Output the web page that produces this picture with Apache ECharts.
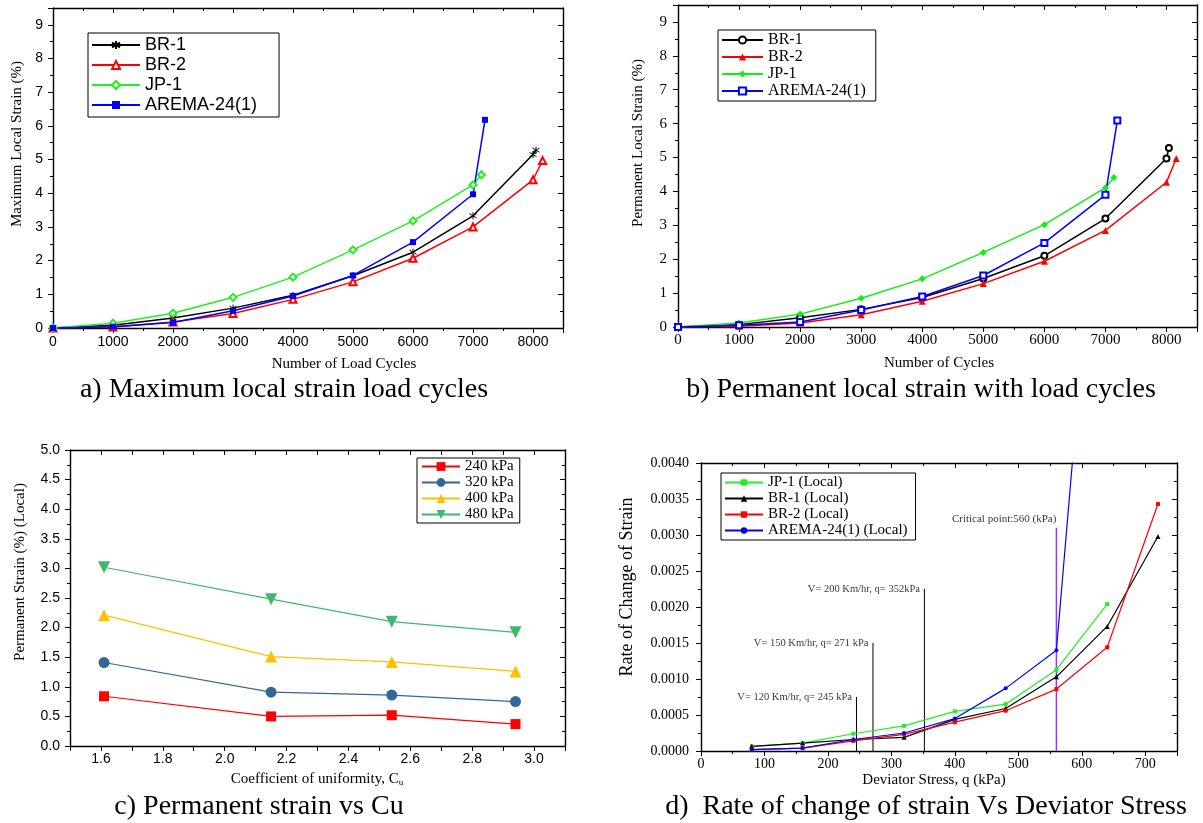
<!DOCTYPE html>
<html><head><meta charset="utf-8">
<script src="https://cdn.jsdelivr.net/npm/echarts@6/dist/echarts.min.js"></script>
<style>html,body{margin:0;padding:0;background:#fff}#c{width:1203px;height:823px}</style>
</head><body><div id="c"></div>
<script>
// ---------- Panel a: Maximum local strain vs load cycles ----------
const cyclesA_BR1 = [0,1000,2000,3000,4000,5000,6000,7000,8000,8050];
const strainA_BR1 = [0,0.08,0.3,0.59,0.97,1.55,2.25,3.33,5.15,5.28];
const cyclesA_BR2 = [0,1000,2000,3000,4000,5000,6000,7000,8000,8160];
const strainA_BR2 = [0,0.03,0.18,0.43,0.85,1.37,2.07,3.0,4.4,4.97];
const cyclesA_JP1 = [0,1000,2000,3000,4000,5000,6000,7000,7140];
const strainA_JP1 = [0,0.14,0.44,0.91,1.51,2.32,3.18,4.25,4.55];
const cyclesA_AR  = [0,1000,2000,3000,4000,5000,6000,7000,7200];
const strainA_AR  = [0,0.04,0.16,0.51,0.95,1.56,2.55,3.97,6.18];

// ---------- Panel b: Permanent local strain vs load cycles ----------
const cyclesB_BR1 = [0,1000,2000,3000,4000,5000,6000,7000,8000,8040];
const strainB_BR1 = [0,0.07,0.27,0.52,0.87,1.43,2.1,3.2,4.97,5.28];
const cyclesB_BR2 = [0,1000,2000,3000,4000,5000,6000,7000,8000,8160];
const strainB_BR2 = [0,0.02,0.12,0.36,0.76,1.28,1.94,2.85,4.27,4.97];
const cyclesB_JP1 = [0,1000,2000,3000,4000,5000,6000,7000,7140];
const strainB_JP1 = [0,0.12,0.38,0.85,1.42,2.2,3.02,4.11,4.41];
const cyclesB_AR  = [0,1000,2000,3000,4000,5000,6000,7000,7195];
const strainB_AR  = [0,0.05,0.15,0.5,0.9,1.52,2.48,3.9,6.09];

// ---------- Panel c: Permanent strain vs Cu ----------
const cuValues = [1.61,2.15,2.54,2.94];
const strain240 = [0.84,0.5,0.52,0.37];
const strain320 = [1.41,0.91,0.86,0.75];
const strain400 = [2.21,1.51,1.42,1.26];
const strain480 = [3.02,2.48,2.1,1.92];

// ---------- Panel d: Rate of change of strain vs deviator stress ----------
const qValues = [80,160,240,320,400,480,560,640,720];
const rateJP1 = [0.000065,0.00011,0.00024,0.00035,0.00055,0.00065,0.00113,0.00204];
const rateBR1 = [0.000065,0.00011,0.00016,0.00019,0.00044,0.00059,0.00103,0.00173,0.00298];
const rateBR2 = [0.00002,0.00004,0.00014,0.00023,0.0004,0.00056,0.00086,0.00144,0.00343];
const rateAR  = [0.00002,0.00004,0.00016,0.00025,0.00045,0.00087,0.0014,0.0097];
const refQ = [245,271,352];
const refTop = [0.00075,0.0015,0.00225];
const refLabels = ['V= 120 Km/hr, q= 245 kPa','V= 150 Km/hr, q= 271 kPa','V= 200 Km/hr, q= 352kPa'];
const critQ = 560, critTop = 0.0031, critLabel = 'Critical point:560 (kPa)';

// ---------- Texts ----------
const titlesA = ['Maximum Local Strain (%)','Number of Load Cycles','a) Maximum local strain load cycles'];
const titlesB = ['Permanent Local Strain (%)','Number of Cycles','b) Permanent local strain with load cycles'];
const titlesC = ['Permanent Strain (%) (Local)','Coefficient of uniformity, C','c) Permanent strain vs Cu'];
const titlesD = ['Rate of Change of Strain','Deviator Stress, q (kPa)','d)  Rate of change of strain Vs Deviator Stress'];

const SANS = "'Liberation Sans', Arial, sans-serif";
const SERIF = "'Liberation Serif', 'Times New Roman', serif";

function xPair(g, o){
  const base = {type:'value', gridIndex:g, min:o.min, max:o.max, interval:o.interval,
    axisLine:{show:true,onZero:false,lineStyle:{color:'#000',width:1.4}},
    splitLine:{show:false}, minorSplitLine:{show:false}};
  return [
    Object.assign({}, base, {position:'bottom',
      axisTick:{show:true,inside:false,length:5,lineStyle:{color:'#000',width:1}},
      minorTick:{show:o.minor>0,splitNumber:o.minor||2,length:3,lineStyle:{color:'#000',width:1}},
      axisLabel:{show:true,color:'#000',fontFamily:o.font,fontSize:o.size,margin:o.margin,formatter:o.fmt,showMinLabel:true,showMaxLabel:true,hideOverlap:false}}),
    Object.assign({}, base, {position:'top',
      axisTick:{show:true,inside:true,length:5,lineStyle:{color:'#000',width:1}},
      minorTick:{show:o.minor>0,splitNumber:o.minor||2,length:3,lineStyle:{color:'#000',width:1}},
      axisLabel:{show:false}})
  ];
}
function yPair(g, o){
  const base = {type:'value', gridIndex:g, min:o.min, max:o.max, interval:o.interval,
    axisLine:{show:true,onZero:false,lineStyle:{color:'#000',width:1.4}},
    splitLine:{show:false}, minorSplitLine:{show:false}};
  return [
    Object.assign({}, base, {position:'left',
      axisTick:{show:true,inside:false,length:5,lineStyle:{color:'#000',width:1}},
      minorTick:{show:o.minor>0,splitNumber:o.minor||2,length:3,lineStyle:{color:'#000',width:1}},
      axisLabel:{show:true,color:'#000',fontFamily:o.font,fontSize:o.size,margin:o.margin,formatter:o.fmt,showMinLabel:true,showMaxLabel:true,hideOverlap:false}}),
    Object.assign({}, base, {position:'right',
      axisTick:{show:true,inside:true,length:5,lineStyle:{color:'#000',width:1}},
      minorTick:{show:o.minor>0,splitNumber:o.minor||2,length:3,lineStyle:{color:'#000',width:1}},
      axisLabel:{show:false}})
  ];
}
const intFmt = (step)=> v => (Math.abs(v/step - Math.round(v/step))<1e-6 ? String(Math.round(v)) : '');

function ln(name, xs, ys, g, color, symbol, size, extra){
  return Object.assign({type:'line', name:name, xAxisIndex:2*g, yAxisIndex:2*g,
    data: xs.map((x,i)=>[x, ys[i]]).filter(p=>p[1]!==undefined),
    symbol:symbol, symbolSize:size, showSymbol:true, color:color,
    lineStyle:{color:color,width:1.5}, itemStyle:{color:color}, animation:false, z:3}, extra||{});
}

const asterisk = 'path://M1,2L9,8M9,2L1,8M5,0L5,10';

const series = [
  // a
  ln('a_BR-1', cyclesA_BR1, strainA_BR1, 0, '#000', asterisk, 7, {itemStyle:{color:'#000',borderColor:'#000',borderWidth:1}}),
  ln('a_BR-2', cyclesA_BR2, strainA_BR2, 0, '#ff0000', 'emptyTriangle', 7),
  ln('a_JP-1', cyclesA_JP1, strainA_JP1, 0, '#22ee22', 'emptyDiamond', 7),
  ln('a_AREMA-24(1)', cyclesA_AR, strainA_AR, 0, '#0000ff', 'rect', 6),
  // b
  ln('b_BR-1', cyclesB_BR1, strainB_BR1, 1, '#000', 'emptyCircle', 6),
  ln('b_BR-2', cyclesB_BR2, strainB_BR2, 1, '#ff0000', 'triangle', 7),
  ln('b_JP-1', cyclesB_JP1, strainB_JP1, 1, '#11ee11', 'diamond', 7),
  ln('b_AREMA-24(1)', cyclesB_AR, strainB_AR, 1, '#0000ff', 'emptyRect', 6),
  // c
  ln('c_240 kPa', cuValues, strain240, 2, '#ff0000', 'rect', 10, {lineStyle:{color:'#ff0000',width:1.2}}),
  ln('c_320 kPa', cuValues, strain320, 2, '#336699', 'circle', 11, {lineStyle:{color:'#336699',width:1.2}}),
  ln('c_400 kPa', cuValues, strain400, 2, '#ffc000', 'triangle', 12, {lineStyle:{color:'#ffc000',width:1.2}}),
  ln('c_480 kPa', cuValues, strain480, 2, '#3cb96e', 'triangle', 12, {symbolRotate:180, lineStyle:{color:'#3cb96e',width:1.2}}),
];
// d reference lines (drawn below data)
refQ.forEach((q,i)=>{
  series.push({type:'line', name:'ref'+i, xAxisIndex:6, yAxisIndex:6, data:[[q,0],[q,refTop[i]]],
    symbol:'none', lineStyle:{color:'#000',width:1}, silent:true, animation:false, z:1});
  series.push({type:'scatter', name:'refl'+i, xAxisIndex:6, yAxisIndex:6,
    data:[{value:[q,refTop[i]], name:refLabels[i]}], symbolSize:1, itemStyle:{color:'transparent'},
    label:{show:true, position:'left', distance:4, formatter:'{b}', color:'#000', fontFamily:SERIF, fontSize:10.5},
    silent:true, animation:false, z:1});
});
series.push({type:'line', name:'crit', xAxisIndex:6, yAxisIndex:6, data:[[critQ,0],[critQ,critTop]],
  symbol:'none', lineStyle:{color:'#9933ff',width:1.5}, silent:true, animation:false, z:1});
series.push({type:'scatter', name:'critl', xAxisIndex:6, yAxisIndex:6,
  data:[{value:[critQ,critTop], name:critLabel}], symbolSize:1, itemStyle:{color:'transparent'},
  label:{show:true, position:'top', align:'right', distance:3, formatter:'{b}', color:'#000', fontFamily:SERIF, fontSize:11},
  silent:true, animation:false, z:1});
series.push(
  ln('d_JP-1 (Local)', qValues, rateJP1, 3, '#22ee22', 'rect', 4, {lineStyle:{color:'#22ee22',width:1.2}}),
  ln('d_BR-1 (Local)', qValues, rateBR1, 3, '#000', 'triangle', 5, {lineStyle:{color:'#000',width:1.2}}),
  ln('d_BR-2 (Local)', qValues, rateBR2, 3, '#ff0000', 'rect', 4, {lineStyle:{color:'#ff0000',width:1.2}}),
  ln('d_AREMA-24(1) (Local)', qValues, rateAR, 3, '#0000ff', 'circle', 4, {lineStyle:{color:'#0000ff',width:1.2}})
);

const xAxes = [].concat(
  xPair(0,{min:0,max:8500,interval:1000,minor:2,font:SANS,size:14,margin:7,fmt:intFmt(1000)}),
  xPair(1,{min:0,max:8500,interval:1000,minor:2,font:SERIF,size:15,margin:6,fmt:intFmt(1000)}),
  xPair(2,{min:1.5,max:3.1,interval:0.1,minor:0,font:SANS,size:14,margin:6,
    fmt:v=>{const k=Math.round(v*10);return k%2===0?(k/10).toFixed(1):'';}}),
  xPair(3,{min:0,max:750,interval:100,minor:2,font:SERIF,size:14,margin:6,fmt:intFmt(100)})
);
const yAxes = [].concat(
  yPair(0,{min:0,max:9.5,interval:1,minor:2,font:SANS,size:14,margin:10,fmt:intFmt(1)}),
  yPair(1,{min:0,max:9.5,interval:1,minor:2,font:SERIF,size:15,margin:11,fmt:intFmt(1)}),
  yPair(2,{min:0,max:5,interval:0.5,minor:2,font:SANS,size:14,margin:10,fmt:v=>v.toFixed(1)}),
  yPair(3,{min:0,max:0.004,interval:0.0005,minor:2,font:SERIF,size:14,margin:12,fmt:v=>v.toFixed(4)})
);

function legend(left, top, names, font, size, lh, itemW, itemH, gap, pad){
  return {show:true, orient:'vertical', left:left, top:top, data:names, formatter:n=>n.slice(2),
    itemWidth:itemW, itemHeight:itemH, itemGap:gap, padding:pad,
    textStyle:{color:'#000', fontFamily:font, fontSize:size, lineHeight:lh},
    borderColor:'#000', borderWidth:1, borderRadius:0, backgroundColor:'#fff', selectedMode:false};
}

function gtext(x,y,text,font,size,rot,extra){
  return Object.assign({type:'text', x:x, y:y, rotation:rot||0, silent:true, z:10,
    style:{text:text, fill:'#000', fontFamily:font, fontSize:size, align:'center', verticalAlign:'middle'}}, extra||{});
}

const option = {
  backgroundColor:'#fff',
  animation:false,
  grid:[
    {left:53, top:8, width:510, height:320, outerBoundsMode:'none', containLabel:false},
    {left:678, top:5, width:519, height:322, outerBoundsMode:'none', containLabel:false},
    {left:70, top:450, width:495, height:296, outerBoundsMode:'none', containLabel:false},
    {left:701, top:463, width:476, height:288, outerBoundsMode:'none', containLabel:false}
  ],
  xAxis:xAxes, yAxis:yAxes,
  legend:[
    legend(88, 33, ['a_BR-1','a_BR-2','a_JP-1','a_AREMA-24(1)'], SANS, 18, 18, 48, 10, 2, [3,22,3,3]),
    legend(718, 30, ['b_BR-1','b_BR-2','b_JP-1','b_AREMA-24(1)'], SERIF, 16, 16, 41, 9, 1, [2,10,2,3]),
    legend(417, 458, ['c_240 kPa','c_320 kPa','c_400 kPa','c_480 kPa'], SERIF, 15, 15, 38, 11, 1, [1,6,1,4]),
    legend(721, 473, ['d_JP-1 (Local)','d_BR-1 (Local)','d_BR-2 (Local)','d_AREMA-24(1) (Local)'], SERIF, 15, 15, 38, 8, 1, [2,8,2,3])
  ],
  series:series,
  graphic:{elements:[
    gtext(17,144,titlesA[0],SERIF,15,Math.PI/2),
    gtext(344,364,titlesA[1],SERIF,15,0),
    gtext(284,390,titlesA[2],SERIF,28,0),
    gtext(638,143,titlesB[0],SERIF,15,Math.PI/2),
    gtext(939,363,titlesB[1],SERIF,15,0),
    gtext(921,390,titlesB[2],SERIF,28,0),
    gtext(20,572,titlesC[0],SERIF,15,Math.PI/2),
    {type:'text', x:317, y:779, silent:true, z:10,
      style:{text:titlesC[1]+'{s|u}', fill:'#000', fontFamily:SERIF, fontSize:15, align:'center', verticalAlign:'middle',
        rich:{s:{fontFamily:SERIF, fontSize:9, padding:[8,0,0,0]}}}},
    gtext(259,807,titlesC[2],SERIF,28,0),
    gtext(627,587,titlesD[0],SERIF,18,Math.PI/2),
    gtext(934,780,titlesD[1],SERIF,15,0),
    gtext(926,807,titlesD[2],SERIF,28,0)
  ]}
};
const chart = echarts.init(document.getElementById('c'), null, {renderer:'canvas'});
chart.setOption(option);
</script></body></html>
